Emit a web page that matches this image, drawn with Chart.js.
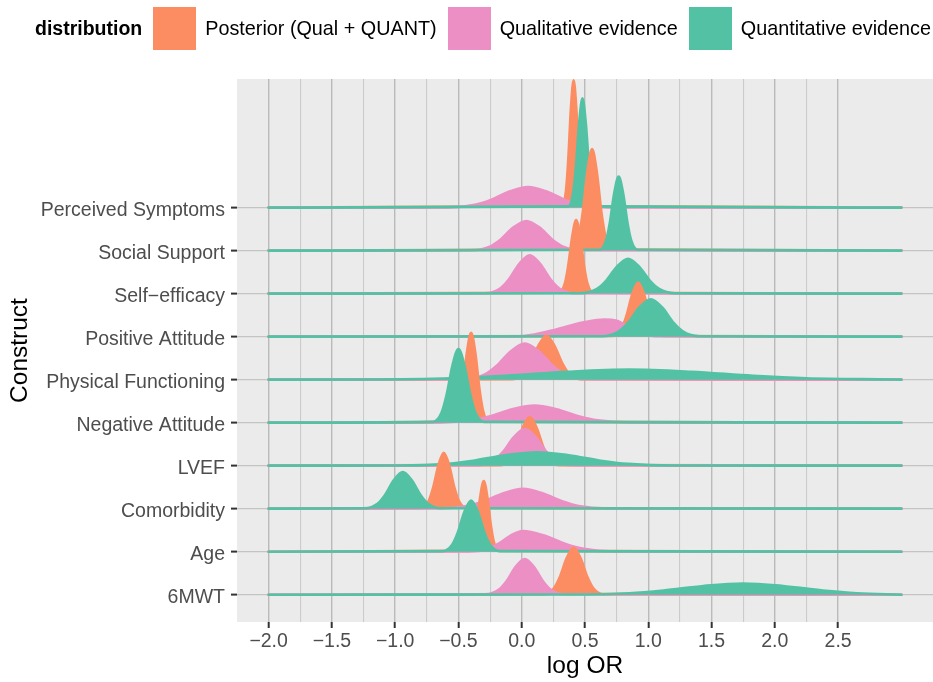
<!DOCTYPE html>
<html>
<head>
<meta charset="utf-8">
<script src="https://cdn.jsdelivr.net/npm/chart.js@4.4.1/dist/chart.umd.min.js"></script>
<style>
    body { margin: 0; background: #fff; font-family: "Liberation Sans", Arial, sans-serif; }
    #wrap { position: relative; width: 933px; height: 682px; }
    #chart { position: absolute; left: 0; top: 0; }
    #legend { position: absolute; left: 0; top: 0; height: 57px; padding-left: 35px;
              display: flex; align-items: center; z-index: 2; }
    #legend .title { font-weight: bold; font-size: 19.5px; margin-right: 11px; color: #000; }
    #legend .key { width: 43px; height: 43px; margin-right: 9px; }
    #legend .lab { font-size: 19.8px; margin-right: 11px; color: #000; white-space: nowrap; }
</style>
</head>
<body>
<div id="wrap">
    <div id="legend"></div>
    <canvas id="chart" width="933" height="682"></canvas>
</div>
<script>
// rows from bottom (y = 1) to top (y = 10)
const constructs = ['6MWT', 'Age', 'Comorbidity', 'LVEF', 'Negative Attitude',
    'Physical Functioning', 'Positive Attitude', 'Self\u2212efficacy', 'Social Support', 'Perceived Symptoms'];

const distributions = ['Posterior (Qual + QUANT)', 'Qualitative evidence', 'Quantitative evidence'];
const colors = ['#fc8d62', '#ec8fc4', '#53c2a4'];

const xTickValues = [-2.0, -1.5, -1.0, -0.5, 0.0, 0.5, 1.0, 1.5, 2.0, 2.5];
const xTickLabels = ['\u22122.0', '\u22121.5', '\u22121.0', '\u22120.5', '0.0', '0.5', '1.0', '1.5', '2.0', '2.5'];
const xMinorGrid = [-1.75, -1.25, -0.75, -0.25, 0.25, 0.75, 1.25, 1.75, 2.25];

// ridge heights: [log OR, height in row units], same row order as constructs
const posteriorCurves = [
    [[0.176, 0.012], [0.254, 0.147], [0.301, 0.409], [0.355, 0.85], [0.41, 1.09], [0.465, 0.85], [0.519, 0.409], [0.566, 0.147], [0.644, 0.012]],
    [[-0.42, 0.018], [-0.38, 0.221], [-0.356, 0.615], [-0.328, 1.279], [-0.30, 1.64], [-0.272, 1.279], [-0.244, 0.615], [-0.22, 0.221], [-0.18, 0.018]],
    [[-0.796, 0.014], [-0.736, 0.176], [-0.7, 0.488], [-0.658, 1.014], [-0.616, 1.30], [-0.574, 1.014], [-0.532, 0.488], [-0.496, 0.176], [-0.436, 0.014]],
    [[-0.171, 0.012], [-0.093, 0.153], [-0.046, 0.424], [0.008, 0.881], [0.063, 1.13], [0.118, 0.881], [0.172, 0.424], [0.219, 0.153], [0.297, 0.012]],
    [[-0.541, 0.023], [-0.494, 0.282], [-0.466, 0.784], [-0.433, 1.63], [-0.40, 2.09], [-0.367, 1.63], [-0.334, 0.784], [-0.306, 0.282], [-0.259, 0.023]],
    [[-0.072, 0.011], [0.017, 0.138], [0.07, 0.383], [0.133, 0.796], [0.195, 1.02], [0.257, 0.796], [0.32, 0.383], [0.373, 0.138], [0.462, 0.011]],
    [[0.719, 0.014], [0.786, 0.17], [0.826, 0.47], [0.873, 0.98], [0.92, 1.26], [0.967, 0.98], [1.014, 0.47], [1.054, 0.17], [1.121, 0.014]],
    [[0.295, 0.019], [0.34, 0.23], [0.367, 0.64], [0.399, 1.33], [0.43, 1.71], [0.462, 1.33], [0.493, 0.64], [0.52, 0.23], [0.565, 0.019]],
    [[0.397, 0.026], [0.45, 0.32], [0.482, 0.885], [0.519, 1.84], [0.556, 2.36], [0.593, 1.84], [0.63, 0.885], [0.662, 0.32], [0.715, 0.026]],
    [[0.32, 0.03], [0.35, 0.40], [0.368, 1.12], [0.389, 2.32], [0.41, 2.96], [0.431, 2.32], [0.452, 1.12], [0.47, 0.40], [0.50, 0.03]]
];

const qualitativeCurves = [
    [[-0.285, 0.009], [-0.182, 0.112], [-0.12, 0.311], [-0.048, 0.647], [0.024, 0.83], [0.096, 0.647], [0.168, 0.311], [0.23, 0.112], [0.333, 0.009]],
    [[-0.41, 0.005], [-0.27, 0.065], [-0.186, 0.18], [-0.088, 0.374], [0.01, 0.48], [0.178, 0.374], [0.346, 0.18], [0.49, 0.065], [0.73, 0.005]],
    [[-0.65, 0.005], [-0.43, 0.062], [-0.298, 0.173], [-0.144, 0.359], [0.01, 0.46], [0.164, 0.359], [0.318, 0.173], [0.45, 0.062], [0.67, 0.005]],
    [[-0.345, 0.009], [-0.222, 0.115], [-0.148, 0.319], [-0.062, 0.663], [0.024, 0.85], [0.11, 0.663], [0.196, 0.319], [0.27, 0.115], [0.393, 0.009]],
    [[-0.65, 0.004], [-0.4, 0.054], [-0.25, 0.15], [-0.075, 0.312], [0.1, 0.40], [0.275, 0.312], [0.45, 0.15], [0.6, 0.054], [0.85, 0.004]],
    [[-0.456, 0.009], [-0.296, 0.113], [-0.2, 0.315], [-0.088, 0.655], [0.024, 0.84], [0.136, 0.655], [0.248, 0.315], [0.344, 0.113], [0.504, 0.009]],
    [[-0.05, 0.005], [0.1, 0.05], [0.25, 0.15], [0.35, 0.23], [0.5, 0.34], [0.65, 0.40], [0.75, 0.37], [0.85, 0.22], [0.95, 0.07], [1.05, 0.01]],
    [[-0.288, 0.01], [-0.171, 0.12], [-0.101, 0.334], [-0.019, 0.694], [0.063, 0.89], [0.145, 0.694], [0.227, 0.334], [0.297, 0.12], [0.414, 0.01]],
    [[-0.398, 0.008], [-0.253, 0.093], [-0.166, 0.26], [-0.065, 0.54], [0.037, 0.69], [0.139, 0.54], [0.24, 0.26], [0.327, 0.093], [0.472, 0.008]],
    [[-0.58, 0.005], [-0.37, 0.065], [-0.244, 0.18], [-0.097, 0.374], [0.05, 0.48], [0.197, 0.374], [0.344, 0.18], [0.47, 0.065], [0.68, 0.005]]
];

const quantitativeCurves = [
    [[0.40, 0.003], [0.85, 0.035], [1.12, 0.098], [1.435, 0.203], [1.75, 0.26], [2.065, 0.203], [2.38, 0.098], [2.65, 0.035]],
    [[-0.625, 0.013], [-0.55, 0.161], [-0.505, 0.446], [-0.453, 0.928], [-0.40, 1.19], [-0.347, 0.928], [-0.295, 0.446], [-0.25, 0.161], [-0.175, 0.013]],
    [[-1.24, 0.009], [-1.14, 0.115], [-1.08, 0.319], [-1.01, 0.663], [-0.94, 0.85], [-0.87, 0.663], [-0.80, 0.319], [-0.74, 0.115], [-0.64, 0.009]],
    [[-0.96, 0.003], [-0.6, 0.042], [-0.384, 0.116], [-0.132, 0.242], [0.12, 0.31], [0.372, 0.242], [0.624, 0.116], [0.84, 0.042], [1.2, 0.003]],
    [[-0.701, 0.019], [-0.634, 0.231], [-0.594, 0.641], [-0.547, 1.334], [-0.50, 1.71], [-0.453, 1.334], [-0.406, 0.641], [-0.366, 0.231], [-0.299, 0.019]],
    [[-1.25, 0.003], [-0.55, 0.032], [-0.13, 0.088], [0.36, 0.183], [0.85, 0.235], [1.34, 0.183], [1.83, 0.088], [2.25, 0.032], [2.95, 0.003]],
    [[0.636, 0.01], [0.764, 0.117], [0.841, 0.326], [0.93, 0.68], [1.02, 0.87], [1.11, 0.68], [1.199, 0.326], [1.276, 0.117], [1.404, 0.01]],
    [[0.471, 0.009], [0.594, 0.109], [0.668, 0.304], [0.754, 0.632], [0.84, 0.81], [0.926, 0.632], [1.012, 0.304], [1.086, 0.109], [1.209, 0.009]],
    [[0.616, 0.019], [0.666, 0.232], [0.696, 0.645], [0.731, 1.34], [0.766, 1.72], [0.801, 1.34], [0.836, 0.645], [0.866, 0.232], [0.916, 0.019]],
    [[0.369, 0.028], [0.406, 0.343], [0.428, 0.95], [0.454, 1.98], [0.48, 2.54], [0.506, 1.98], [0.532, 0.95], [0.554, 0.343], [0.591, 0.028]]
];

const xStart = -2.0;
const xEnd = 3.0;


/**
 * builds the legend above the panel
 */
function buildLegend() {
    let legend = document.getElementById('legend');
    let title = document.createElement('span');
    title.className = 'title';
    title.innerText = 'distribution';
    legend.appendChild(title);
    for (let i = 0; i < distributions.length; i++) {
        let key = document.createElement('span');
        key.className = 'key';
        key.style.background = colors[i];
        legend.appendChild(key);
        let lab = document.createElement('span');
        lab.className = 'lab';
        lab.innerText = distributions[i];
        legend.appendChild(lab);
    }
}


/**
 * one dataset per ridge, drawn top row first so lower rows overlap upper ones
 */
function buildDatasets() {
    let allCurves = [posteriorCurves, qualitativeCurves, quantitativeCurves];
    let datasets = [];
    let total = constructs.length * allCurves.length;
    let drawIndex = 0;
    for (let row = constructs.length - 1; row >= 0; row--) {
        let base = row + 1;
        for (let d = 0; d < allCurves.length; d++) {
            let knots = [[xStart, 0]].concat(allCurves[d][row], [[xEnd, 0]]);
            datasets.push({
                label: distributions[d] + ' - ' + constructs[row],
                data: knots.map(k => ({ x: k[0], y: base + k[1] })),
                borderColor: colors[d],
                backgroundColor: colors[d],
                borderWidth: 2.6,
                borderCapStyle: 'round',
                pointRadius: 0,
                cubicInterpolationMode: 'monotone',
                fill: { value: base },
                order: total - drawIndex
            });
            drawIndex += 1;
        }
    }
    return datasets;
}


const panelBackground = {
    id: 'panelBackground',
    beforeDraw(chart) {
        let ctx = chart.ctx;
        let a = chart.chartArea;
        ctx.save();
        ctx.fillStyle = '#ebebeb';
        ctx.fillRect(a.left, a.top, a.right - a.left, a.bottom - a.top);
        ctx.restore();
    }
};


window.onload = function () {
    buildLegend();
    let ctx = document.getElementById('chart').getContext('2d');
    let xGrid = xTickValues.concat(xMinorGrid).sort((a, b) => a - b);
    new Chart(ctx, {
        type: 'line',
        data: { datasets: buildDatasets() },
        options: {
            responsive: false,
            animation: false,
            layout: { padding: { top: 79, right: 0, left: 0, bottom: 0 } },
            plugins: {
                legend: { display: false },
                tooltip: { enabled: false }
            },
            scales: {
                x: {
                    type: 'linear',
                    min: -2.25,
                    max: 3.25,
                    afterBuildTicks: scale => { scale.ticks = xGrid.map(v => ({ value: v })); },
                    afterFit: scale => { scale.height = 60; },
                    border: { display: false },
                    grid: {
                        color: c => xTickValues.includes(c.tick.value) ? '#bababa' : '#cbcbcb',
                        lineWidth: c => xTickValues.includes(c.tick.value) ? 1.4 : 1.1,
                        tickColor: c => xTickValues.includes(c.tick.value) ? '#333333' : 'rgba(0,0,0,0)',
                        tickLength: 6,
                        tickWidth: 2
                    },
                    ticks: {
                        autoSkip: false,
                        maxRotation: 0,
                        padding: 2,
                        color: '#4d4d4d',
                        font: { family: 'Liberation Sans', size: 19.5 },
                        callback: value => {
                            let i = xTickValues.indexOf(value);
                            return i >= 0 ? xTickLabels[i] : '';
                        }
                    },
                    title: {
                        display: true,
                        text: 'log OR',
                        color: '#000',
                        font: { family: 'Liberation Sans', size: 24.5 },
                        padding: { top: 0, bottom: 1 }
                    }
                },
                y: {
                    type: 'linear',
                    min: 0.365,
                    max: 12.99,
                    afterBuildTicks: scale => { scale.ticks = constructs.map((c, i) => ({ value: i + 1 })); },
                    afterFit: scale => { scale.width = 237; },
                    border: { display: false },
                    grid: {
                        color: '#c4c4c4',
                        lineWidth: 1.2,
                        tickColor: '#333333',
                        tickLength: 6,
                        tickWidth: 2
                    },
                    ticks: {
                        autoSkip: false,
                        padding: 6,
                        labelOffset: 3,
                        color: '#4d4d4d',
                        font: { family: 'Liberation Sans', size: 19.5 },
                        callback: (value, index) => constructs[index]
                    },
                    title: {
                        display: true,
                        text: 'Construct',
                        color: '#000',
                        font: { family: 'Liberation Sans', size: 24.5 },
                        padding: { top: 6, bottom: 0 }
                    }
                }
            }
        },
        plugins: [panelBackground]
    });
}
</script>
</body>
</html>
